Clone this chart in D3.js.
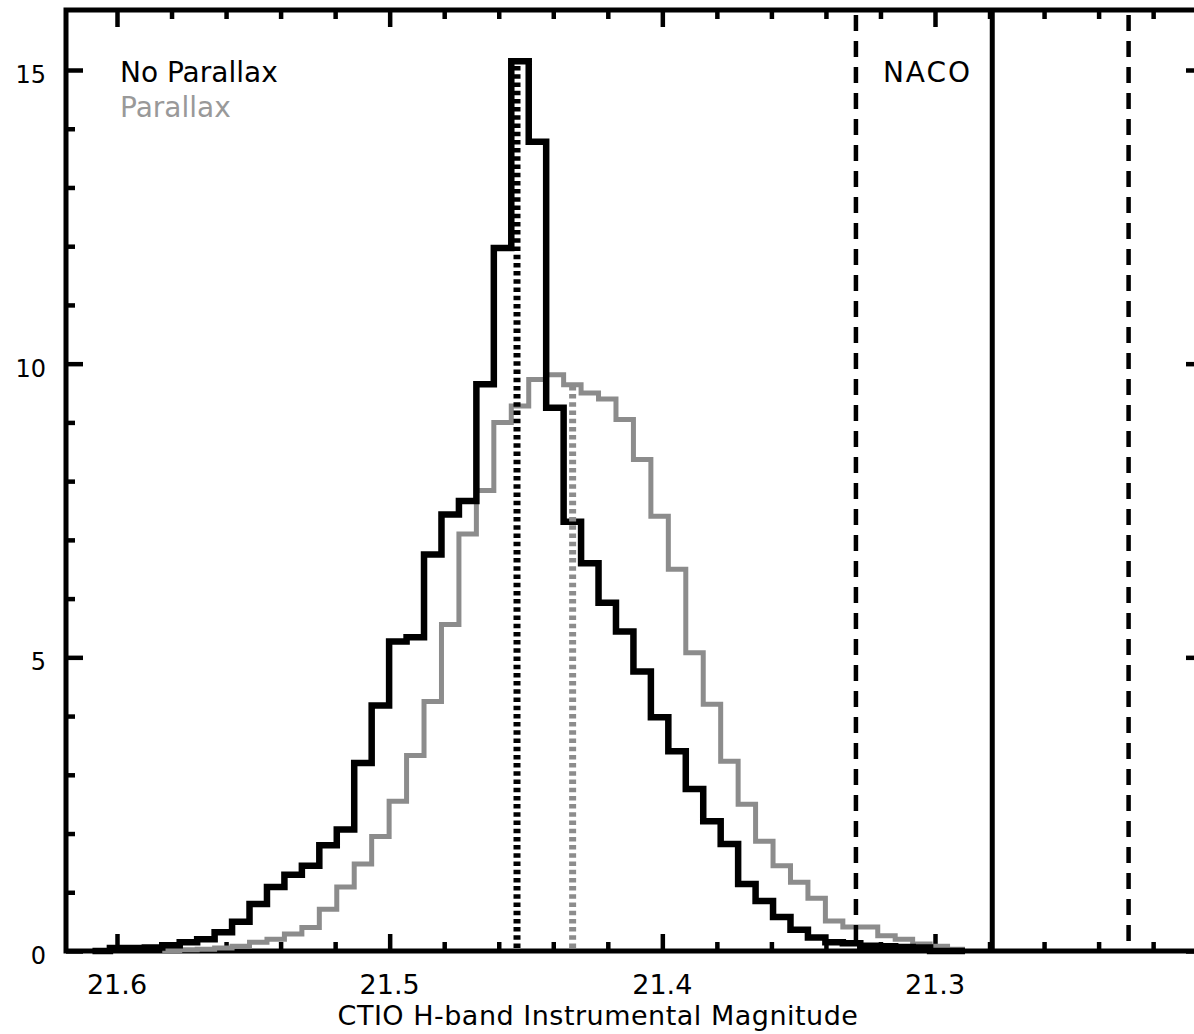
<!DOCTYPE html>
<html>
<head>
<meta charset="utf-8">
<script src="https://cdn.jsdelivr.net/npm/d3@7"></script>
<style>
  body { margin: 0; background: #fff; }
  text { font-family: "DejaVu Sans", sans-serif; }
</style>
</head>
<body>
<script>
// histogram bins (magnitude of first bin edge, bin width; bins run toward brighter mags)
const binStart = 21.609;
const binWidth = 0.0064;

const noParallax = [
  0, 0.05, 0.05, 0.06, 0.1, 0.15, 0.2, 0.32, 0.5, 0.8,
  1.09, 1.3, 1.45, 1.8, 2.07, 3.2, 4.18, 5.27, 5.34, 6.75,
  7.43, 7.66, 9.65, 11.97, 15.15, 13.78, 9.25, 7.31, 6.6, 5.93,
  5.44, 4.76, 3.98, 3.4, 2.76, 2.21, 1.82, 1.14, 0.85, 0.58,
  0.36, 0.23, 0.15, 0.13, 0.09, 0.08, 0.07, 0.06, 0, 0
];
const parallax = [
  null, null, null, null, 0.01, 0.02, 0.03, 0.05, 0.08, 0.15,
  0.2, 0.29, 0.4, 0.71, 1.09, 1.48, 1.95, 2.55, 3.33, 4.25,
  5.56, 7.1, 7.84, 9.0, 9.28, 9.73, 9.81, 9.64, 9.5, 9.4,
  9.05, 8.37, 7.4, 6.5, 5.08, 4.2, 3.23, 2.5, 1.87, 1.45,
  1.17, 0.9, 0.51, 0.41, 0.41, 0.26, 0.2, 0.12, 0.08, 0.03
];

const medianNoParallax = 21.4533;
const medianParallax = 21.4329;
const nacoMag = 21.279;
const nacoErr = 0.05;

const xMajorTicks = [21.6, 21.5, 21.4, 21.3];
const xMinorTicks = [21.58, 21.56, 21.54, 21.52, 21.48, 21.46, 21.44, 21.42,
                     21.38, 21.36, 21.34, 21.32, 21.28, 21.26, 21.24, 21.22];
const yMajorTicks = [0, 5, 10, 15];
const yMinorTicks = [1, 2, 3, 4, 6, 7, 8, 9, 11, 12, 13, 14];
const legendLabels = ['No Parallax', 'Parallax'];
const xTitle = 'CTIO H-band Instrumental Magnitude';

const W = 1194, H = 1034;
const pLeft = 66, pRight = 1203, pTop = 10, pBottom = 951;
const black = '#000', grey = '#8c8c8c';

const svg = d3.select('body').append('svg').attr('width', W).attr('height', H);

const x = d3.scaleLinear().domain([21.6, 21.3]).range([117, 935]);
const y = d3.scaleLinear().domain([0, 15]).range([pBottom, 70]);

// axes: ticks point inward on all four sides
function ticks(axis, size, tx, ty) {
  const g = svg.append('g').attr('transform', `translate(${tx},${ty})`)
    .call(axis.tickSize(-size).tickSizeOuter(0).tickFormat(''));
  g.select('.domain').remove();
  g.selectAll('line').attr('stroke', black).attr('stroke-width', 4.5);
}
ticks(d3.axisBottom(x).tickValues(xMajorTicks), 17, 0, pBottom);
ticks(d3.axisBottom(x).tickValues(xMinorTicks), 9, 0, pBottom);
ticks(d3.axisTop(x).tickValues(xMajorTicks), 17, 0, pTop);
ticks(d3.axisTop(x).tickValues(xMinorTicks), 9, 0, pTop);
ticks(d3.axisLeft(y).tickValues(yMajorTicks), 17, pLeft, 0);
ticks(d3.axisLeft(y).tickValues(yMinorTicks), 9, pLeft, 0);
ticks(d3.axisRight(y).tickValues(yMajorTicks), 17, pRight, 0);
ticks(d3.axisRight(y).tickValues(yMinorTicks), 9, pRight, 0);

svg.append('rect')
  .attr('x', pLeft).attr('y', pTop)
  .attr('width', pRight - pLeft).attr('height', pBottom - pTop)
  .attr('fill', 'none').attr('stroke', black).attr('stroke-width', 5);

// tick labels
svg.selectAll('.xl').data(xMajorTicks).enter().append('text')
  .attr('x', d => x(d)).attr('y', 994)
  .attr('text-anchor', 'middle').attr('font-size', 27)
  .text(d => d.toFixed(1));
svg.selectAll('.yl').data(yMajorTicks).enter().append('text')
  .attr('x', 46).attr('y', d => y(d) + 13)
  .attr('text-anchor', 'end').attr('font-size', 24)
  .text(d => d);
svg.append('text')
  .attr('x', 598).attr('y', 1025)
  .attr('text-anchor', 'middle').attr('font-size', 27)
  .attr('letter-spacing', 0.5)
  .text(xTitle);

// histograms
function stepPoints(vals) {
  const pts = [];
  vals.forEach((v, i) => { if (v !== null) pts.push([binStart - i * binWidth, v]); });
  const last = vals.length;
  pts.push([binStart - last * binWidth, vals[last - 1]]);
  return pts;
}
const line = d3.line().x(d => x(d[0])).y(d => y(d[1])).curve(d3.curveStepAfter);

svg.append('path').datum(stepPoints(parallax))
  .attr('d', line).attr('fill', 'none')
  .attr('stroke', grey).attr('stroke-width', 5);
svg.append('path').datum(stepPoints(noParallax))
  .attr('d', line).attr('fill', 'none')
  .attr('stroke', black).attr('stroke-width', 6.5);

// median lines up to the histogram height at that magnitude
function heightAt(vals, m) {
  const i = Math.floor((binStart - m) / binWidth);
  return vals[i];
}
[[medianParallax, parallax, grey], [medianNoParallax, noParallax, black]].forEach(([m, vals, c]) => {
  svg.append('line')
    .attr('x1', x(m)).attr('x2', x(m))
    .attr('y1', y(0) - 3).attr('y2', y(heightAt(vals, m)))
    .attr('stroke', c).attr('stroke-width', 7)
    .attr('stroke-dasharray', '4.5,3.7');
});

// NACO value and its error range
svg.append('line')
  .attr('x1', x(nacoMag)).attr('x2', x(nacoMag))
  .attr('y1', pTop).attr('y2', pBottom)
  .attr('stroke', black).attr('stroke-width', 5);
[nacoMag - nacoErr, nacoMag + nacoErr].forEach(m => {
  svg.append('line')
    .attr('x1', x(m)).attr('x2', x(m))
    .attr('y1', pTop + 5).attr('y2', pBottom)
    .attr('stroke', black).attr('stroke-width', 4.5)
    .attr('stroke-dasharray', '16,10');
});

// labels
svg.append('text').attr('x', 120).attr('y', 82).attr('font-size', 28)
  .attr('fill', black).text(legendLabels[0]);
svg.append('text').attr('x', 120).attr('y', 117).attr('font-size', 28)
  .attr('fill', '#999').text(legendLabels[1]);
svg.append('text').attr('x', x(nacoMag + nacoErr) + 27).attr('y', 82).attr('font-size', 28)
  .attr('letter-spacing', 2).attr('fill', black).text('NACO');
</script>
</body>
</html>
